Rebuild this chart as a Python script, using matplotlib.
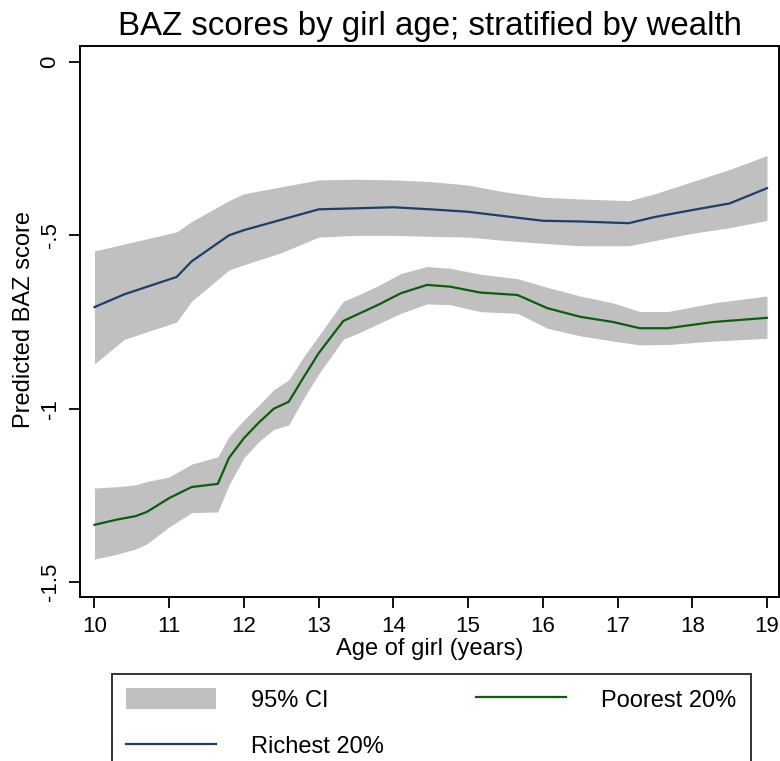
import matplotlib
matplotlib.use("Agg")
import matplotlib.pyplot as plt
from matplotlib.patches import Patch
from matplotlib.lines import Line2D

plt.rcParams['font.family'] = ['Liberation Sans', 'DejaVu Sans']

# ---------------- data ----------------
ages_rich = [10, 10.4, 11.1, 11.3, 11.8, 12.0, 12.5, 13.0, 13.5, 14.0, 14.5,
             15.0, 15.5, 16.0, 16.5, 17.15, 17.5, 18.0, 18.5, 19.0]
rich = [-0.707, -0.67, -0.62, -0.575, -0.50, -0.485, -0.455, -0.425, -0.422,
        -0.419, -0.425, -0.432, -0.445, -0.458, -0.46, -0.465, -0.447, -0.427,
        -0.408, -0.364]
rich_hi = [-0.545, -0.525, -0.49, -0.46, -0.40, -0.38, -0.36, -0.34, -0.338,
           -0.34, -0.345, -0.355, -0.375, -0.39, -0.395, -0.40, -0.38, -0.345,
           -0.31, -0.27]
rich_lo = [-0.871, -0.80, -0.75, -0.69, -0.60, -0.585, -0.55, -0.505, -0.50,
           -0.50, -0.503, -0.505, -0.515, -0.523, -0.53, -0.53, -0.515, -0.494,
           -0.478, -0.457]

ages_poor = [10, 10.3, 10.55, 10.7, 11.0, 11.3, 11.65, 11.8, 12.0, 12.2, 12.4,
             12.6, 12.8, 13.0, 13.33, 13.55, 13.8, 14.1, 14.45, 14.76, 15.16,
             15.66, 16.06, 16.5, 16.94, 17.3, 17.67, 18.28, 19.0]
poor = [-1.335, -1.32, -1.31, -1.298, -1.258, -1.226, -1.217, -1.142, -1.085,
        -1.04, -1.0, -0.98, -0.909, -0.84, -0.747, -0.725, -0.70, -0.667,
        -0.643, -0.648, -0.665, -0.672, -0.71, -0.735, -0.75, -0.768, -0.768,
        -0.75, -0.738]
poor_hi = [-1.229, -1.225, -1.22, -1.21, -1.197, -1.16, -1.139, -1.08, -1.033,
           -0.99, -0.945, -0.917, -0.85, -0.79, -0.69, -0.67, -0.645, -0.61,
           -0.59, -0.595, -0.612, -0.625, -0.65, -0.675, -0.695, -0.72, -0.72,
           -0.695, -0.675]
poor_lo = [-1.434, -1.42, -1.405, -1.39, -1.341, -1.30, -1.298, -1.22, -1.142,
           -1.095, -1.06, -1.047, -0.97, -0.90, -0.80, -0.78, -0.755, -0.725,
           -0.698, -0.70, -0.72, -0.725, -0.768, -0.79, -0.805, -0.816, -0.815,
           -0.805, -0.797]

xticks = [10, 11, 12, 13, 14, 15, 16, 17, 18, 19]
yticks = [0, -0.5, -1, -1.5]
ytick_labels = ["0", "-.5", "-1", "-1.5"]

title = "BAZ scores by girl age; stratified by wealth"
xlabel = "Age of girl (years)"
ylabel = "Predicted BAZ score"
legend_labels = ["95% CI", "Richest 20%", "Poorest 20%"]

# ---------------- styles ----------------
W, H = 780, 761
CI_COLOR = "#C0C0C0"
RICH_COLOR = "#1A3F6B"
POOR_COLOR = "#0B5E0B"

fig = plt.figure(figsize=(W / 100, H / 100), dpi=100)
ax = fig.add_axes([80 / W, 1 - 597 / H, 699 / W, 551 / H])

ax.fill_between(ages_rich, rich_lo, rich_hi, color=CI_COLOR, lw=0, zorder=1)
ax.fill_between(ages_poor, poor_lo, poor_hi, color=CI_COLOR, lw=0, zorder=1)
ax.plot(ages_rich, rich, color=RICH_COLOR, lw=1.6, zorder=3)
ax.plot(ages_poor, poor, color=POOR_COLOR, lw=1.6, zorder=3)

ax.set_xlim(9.806, 19.161)
ax.set_ylim(-1.5433, 0.0462)
ax.set_xticks(xticks)
ax.set_xticklabels([str(t) for t in xticks])
ax.set_yticks(yticks)
ax.set_yticklabels(ytick_labels, rotation=90, va="center")
ax.tick_params(axis="both", direction="out", length=8, width=1.3,
               labelsize=16, color="black")
ax.tick_params(axis="x", pad=6)
ax.tick_params(axis="y", pad=6)
for s in ax.spines.values():
    s.set_linewidth(1.4)
    s.set_color("black")

ax.set_title(title, fontsize=23.8, pad=8)

fig.text(429.5 / W, 1 - 655 / H, xlabel, fontsize=17, ha="center", va="baseline")
fig.text(24 / W, 1 - 320 / H, ylabel, fontsize=17, rotation=90,
         ha="center", va="center")

handles = [Patch(facecolor=CI_COLOR, edgecolor="none"),
           Line2D([], [], color=RICH_COLOR, lw=1.6),
           Line2D([], [], color=POOR_COLOR, lw=1.6)]
leg = fig.legend(handles, legend_labels, ncol=2, loc="upper left",
                 bbox_to_anchor=(112 / W, 1 - 674 / H), fontsize=17,
                 frameon=True, fancybox=False, shadow=False,
                 handlelength=3.8, handleheight=1.0, handletextpad=1.5,
                 columnspacing=3.9, labelspacing=0.95, borderpad=0.6,
                 borderaxespad=0)
leg.get_frame().set_edgecolor("black")
leg.get_frame().set_linewidth(1.4)

fig.savefig("out.png", dpi=100)
